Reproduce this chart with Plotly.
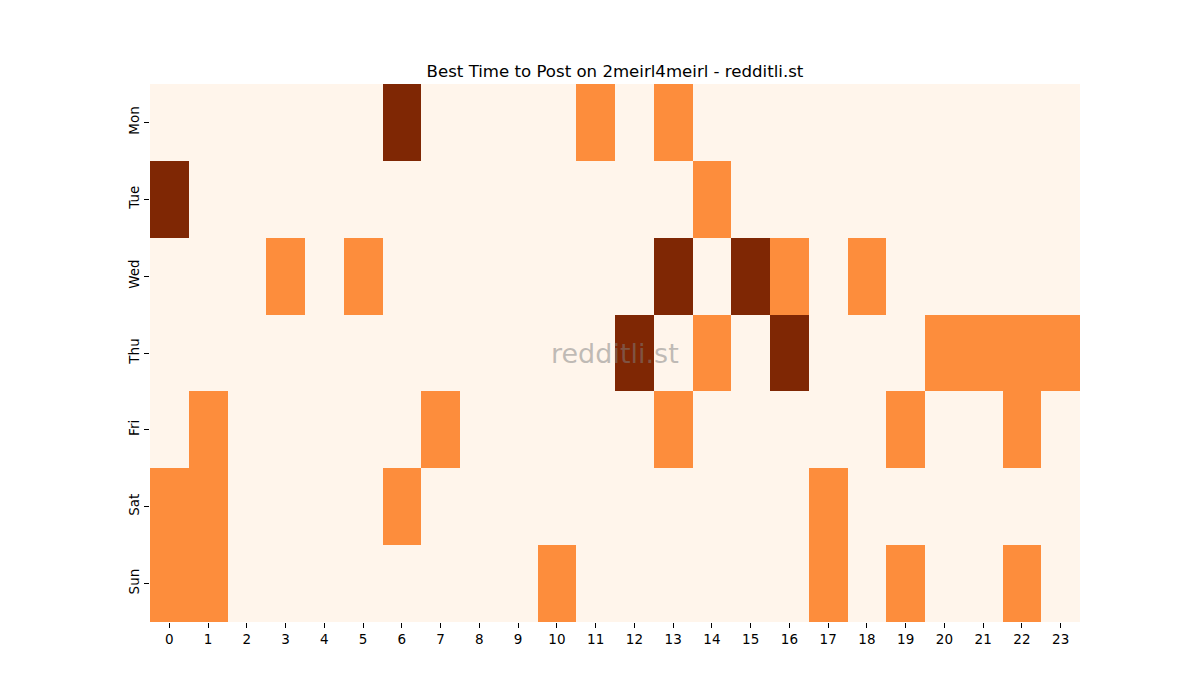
import plotly.graph_objects as go

# Posting activity level by day and hour (0 = low, 1 = medium, 2 = high)
days = ['Mon', 'Tue', 'Wed', 'Thu', 'Fri', 'Sat', 'Sun']
hours = list(range(24))

mon = [0, 0, 0, 0, 0, 0, 2, 0, 0, 0, 0, 1, 0, 1, 0, 0, 0, 0, 0, 0, 0, 0, 0, 0]
tue = [2, 0, 0, 0, 0, 0, 0, 0, 0, 0, 0, 0, 0, 0, 1, 0, 0, 0, 0, 0, 0, 0, 0, 0]
wed = [0, 0, 0, 1, 0, 1, 0, 0, 0, 0, 0, 0, 0, 2, 0, 2, 1, 0, 1, 0, 0, 0, 0, 0]
thu = [0, 0, 0, 0, 0, 0, 0, 0, 0, 0, 0, 0, 2, 0, 1, 0, 2, 0, 0, 0, 1, 1, 1, 1]
fri = [0, 1, 0, 0, 0, 0, 0, 1, 0, 0, 0, 0, 0, 1, 0, 0, 0, 0, 0, 1, 0, 0, 1, 0]
sat = [1, 1, 0, 0, 0, 0, 1, 0, 0, 0, 0, 0, 0, 0, 0, 0, 0, 1, 0, 0, 0, 0, 0, 0]
sun = [1, 1, 0, 0, 0, 0, 0, 0, 0, 0, 1, 0, 0, 0, 0, 0, 0, 1, 0, 1, 0, 0, 1, 0]

z = [mon, tue, wed, thu, fri, sat, sun]

FONT = 'DejaVu Sans'

fig = go.Figure(go.Heatmap(
    z=z,
    x=hours,
    y=days,
    zmin=0,
    zmax=2,
    colorscale=[[0, '#fff5eb'], [0.5, '#fd8d3c'], [1, '#7f2704']],
    showscale=False,
    xgap=0,
    ygap=0,
    hovertemplate='%{y} %{x}:00<extra></extra>'
))

fig.update_layout(
    width=1200,
    height=700,
    margin=dict(l=142, r=128, t=76, b=86),
    paper_bgcolor='white',
    plot_bgcolor='white',
    font=dict(family=FONT, size=13.5, color='black'),
    title=dict(
        text='Best Time to Post on 2meirl4meirl - redditli.st',
        x=0.5,
        xref='paper',
        xanchor='center',
        y=1,
        yref='paper',
        yanchor='bottom',
        pad=dict(b=7),
        font=dict(family=FONT, size=16.6, color='black')
    ),
    xaxis=dict(
        tickmode='array',
        tickvals=hours,
        ticktext=[str(h) for h in hours],
        ticks='outside',
        ticklen=5,
        tickcolor='black',
        showgrid=False,
        zeroline=False,
        showline=False,
        tickangle=0
    ),
    yaxis=dict(
        autorange='reversed',
        ticks='outside',
        ticklen=5,
        tickcolor='black',
        tickangle=-90,
        showgrid=False,
        zeroline=False,
        showline=False
    ),
    annotations=[dict(
        text='redditli.st',
        x=0.5,
        y=0.5,
        xref='paper',
        yref='paper',
        showarrow=False,
        font=dict(family=FONT, size=27, color='rgba(128,128,128,0.5)')
    )]
)

fig.write_html('out.html')
